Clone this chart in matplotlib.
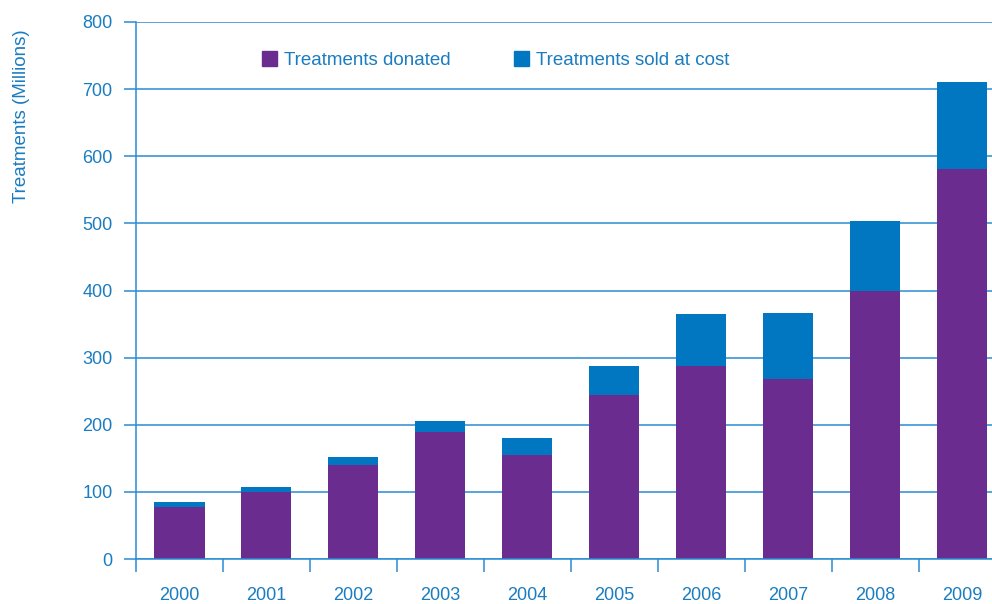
import numpy as np
import matplotlib
matplotlib.use('Agg')
import matplotlib.pyplot as plt
from matplotlib.patches import Patch

# Treatments per year, in millions
years = ['2000', '2001', '2002', '2003', '2004', '2005', '2006', '2007', '2008', '2009']
donated = [77, 100, 140, 189, 155, 245, 288, 268, 400, 581]
sold_at_cost = [8, 7, 12, 17, 25, 43, 77, 98, 103, 129]

purple = '#6a2c8e'
blue = '#0077c0'
line_blue = '#2a8cd2'
text_blue = '#1a7cc1'

plt.rcParams['font.family'] = ['Liberation Sans', 'DejaVu Sans']

fig = plt.figure(figsize=(9.92, 6.04), dpi=100)
ax = fig.add_axes([136 / 992, 45 / 604, 1 - 136 / 992, 537 / 604])

x = np.arange(len(years))
ax.bar(x, donated, width=0.575, color=purple, zorder=2)
ax.bar(x, sold_at_cost, width=0.575, bottom=donated, color=blue, zorder=2)

ax.set_yticks(range(0, 801, 100))
ax.yaxis.grid(True, color=line_blue, linewidth=1.1)
ax.set_axisbelow(True)

for side in ['top', 'right']:
    ax.spines[side].set_visible(False)
for side in ['left', 'bottom']:
    ax.spines[side].set_color(line_blue)
    ax.spines[side].set_linewidth(1.1)

# year labels sit between the boundary ticks
ax.set_xticks(x)
ax.set_xticklabels(years)
ax.set_xticks(np.arange(-0.5, len(years), 1), minor=True)
ax.tick_params(axis='x', which='major', length=0, pad=20, labelsize=13, labelcolor=text_blue)
ax.tick_params(axis='x', which='minor', length=9, width=1.1, color=line_blue, direction='out')
ax.tick_params(axis='y', length=9, width=1.1, color=line_blue, pad=8, labelsize=13, labelcolor=text_blue)

# limits last, so the boundary ticks don't widen the view
ax.set_ylim(0, 800)
ax.set_xlim(-0.5, 9.34)

fig.text(22 / 992, 1 - 116 / 604, 'Treatments (Millions)', rotation=90, ha='center', va='center',
         fontsize=13.5, color=text_blue)

handles = [Patch(color=purple, label='Treatments donated'),
           Patch(color=blue, label='Treatments sold at cost')]
leg = ax.legend(handles=handles, ncol=2, frameon=False, loc='center left',
                bbox_to_anchor=(262 / 992, 1 - 60 / 604), bbox_transform=fig.transFigure,
                borderpad=0, borderaxespad=0, handlelength=0.8, handleheight=0.8,
                handletextpad=0.35, columnspacing=3.4, fontsize=13.5)
for t in leg.get_texts():
    t.set_color(text_blue)

fig.savefig('out.png', dpi=100)
